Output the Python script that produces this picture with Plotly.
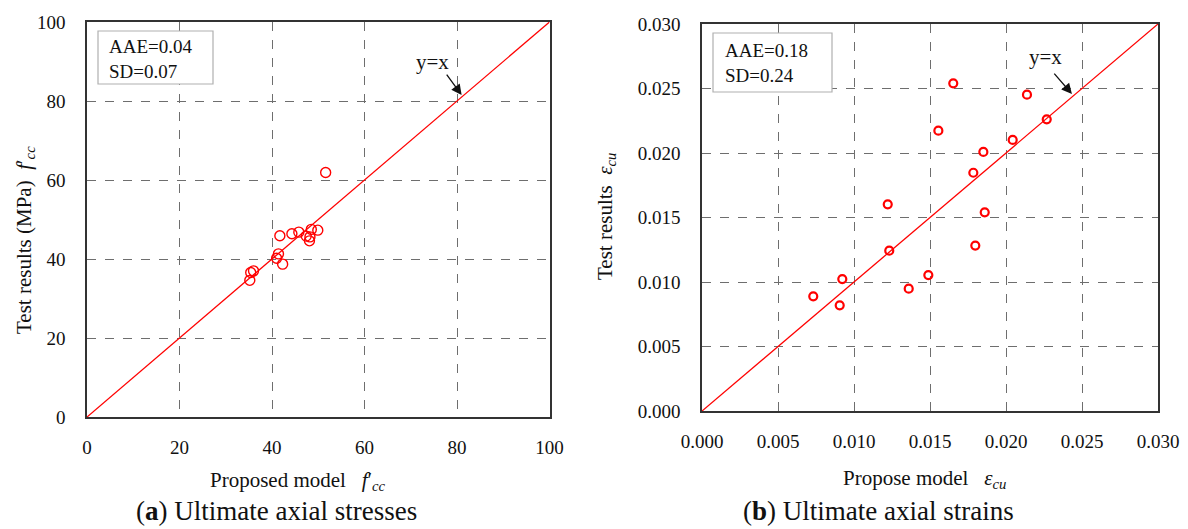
import plotly.graph_objects as go

# ---------------- data ----------------
# (a) Ultimate axial stresses (MPa)
stress_model = [51.6, 41.7, 44.3, 45.8, 47.4, 48.5, 49.9, 48.2, 48.1, 41.4, 41.0, 42.3, 36.0, 35.4, 35.2]
stress_test = [61.9, 45.9, 46.4, 46.8, 45.8, 47.5, 47.3, 45.6, 44.6, 41.3, 40.2, 38.7, 37.0, 36.6, 34.6]
stress_line = [0, 100]
stress_ticks = [0, 20, 40, 60, 80, 100]

# (b) Ultimate axial strains
strain_model = [0.01653, 0.02138, 0.02268, 0.01555, 0.02044, 0.01851, 0.01785, 0.01222,
                0.01860, 0.01798, 0.01232, 0.00923, 0.01489, 0.01360, 0.00732, 0.00906]
strain_test = [0.02540, 0.02452, 0.02261, 0.02173, 0.02101, 0.02008, 0.01847, 0.01602,
               0.01540, 0.01282, 0.01243, 0.01023, 0.01054, 0.00948, 0.00889, 0.00819]
strain_line = [0, 0.030]
strain_ticks = [0.000, 0.005, 0.010, 0.015, 0.020, 0.025, 0.030]

stats_a = "AAE=0.04<br>SD=0.07"
stats_b = "AAE=0.18<br>SD=0.24"

W, H = 1188, 529
FONT = "Liberation Serif, Times New Roman, serif"
RED = "#ff0000"
GRID = "#6e6e6e"


def px(x):
    return x / W


def py(y):
    return 1 - y / H


fig = go.Figure()

fig.add_trace(go.Scatter(x=stress_line, y=stress_line, mode="lines",
                         line=dict(color=RED, width=1.3), xaxis="x", yaxis="y",
                         showlegend=False, hoverinfo="skip"))
fig.add_trace(go.Scatter(x=stress_model, y=stress_test, mode="markers",
                         marker=dict(symbol="circle-open", size=10, color=RED,
                                     line=dict(width=1.4, color=RED)),
                         xaxis="x", yaxis="y", showlegend=False))

fig.add_trace(go.Scatter(x=strain_line, y=strain_line, mode="lines",
                         line=dict(color=RED, width=1.3), xaxis="x2", yaxis="y2",
                         showlegend=False, hoverinfo="skip"))
fig.add_trace(go.Scatter(x=strain_model, y=strain_test, mode="markers",
                         marker=dict(symbol="circle-open", size=8, color=RED,
                                     line=dict(width=2.2, color=RED)),
                         xaxis="x2", yaxis="y2", showlegend=False))

axis_common = dict(
    showline=True, linecolor="#333333", linewidth=1.5, mirror=True,
    showgrid=True, gridcolor=GRID, gridwidth=1, griddash="dash",
    zeroline=False, ticks="", automargin=False,
    tickfont=dict(family=FONT, size=19, color="#111111"),
)

fig.update_layout(
    width=W, height=H,
    margin=dict(l=0, r=0, t=0, b=0),
    paper_bgcolor="white", plot_bgcolor="white",
    font=dict(family=FONT, color="#111111"),
    xaxis=dict(domain=[px(87), px(549.5)], range=[0, 100], tickvals=stress_ticks,
               anchor="y", ticklabelstandoff=12, **axis_common),
    yaxis=dict(domain=[py(417), py(22)], range=[0, 100], tickvals=stress_ticks,
               anchor="x", ticklabelstandoff=16, **axis_common),
    xaxis2=dict(domain=[px(702), px(1158)], range=[0, 0.030], tickvals=strain_ticks,
                tickformat=".3f", anchor="y2", ticklabelstandoff=12, **axis_common),
    yaxis2=dict(domain=[py(411), py(24)], range=[0, 0.030], tickvals=strain_ticks,
                tickformat=".3f", anchor="x2", ticklabelstandoff=16, **axis_common),
)

# stats boxes (frames as shapes, texts as annotations)
box_style = dict(type="rect", xref="paper", yref="paper",
                 line=dict(color="#b0b0b0", width=1.2), fillcolor="white", layer="above")
fig.add_shape(x0=px(98), x1=px(213), y0=py(84), y1=py(31), **box_style)
fig.add_shape(x0=px(713), x1=px(832), y0=py(92), y1=py(33), **box_style)

ann = []
ann.append(dict(text=stats_a, xref="paper", yref="paper", x=px(107), y=py(59),
                xanchor="left", yanchor="middle", align="left", showarrow=False,
                font=dict(family=FONT, size=19)))
ann.append(dict(text=stats_b, xref="paper", yref="paper", x=px(723), y=py(63),
                xanchor="left", yanchor="middle", align="left", showarrow=False,
                font=dict(family=FONT, size=19)))

# y=x labels and arrows
ann.append(dict(text="y=x", xref="paper", yref="paper", x=px(432), y=py(62),
                xanchor="center", yanchor="middle", showarrow=False,
                font=dict(family=FONT, size=21)))
ann.append(dict(text="", x=81, y=81.5, xref="x", yref="y",
                axref="pixel", ayref="pixel", ax=-16, ay=-22,
                showarrow=True, arrowhead=2, arrowsize=1.6, arrowwidth=1.3,
                arrowcolor="#111111", standoff=0))
ann.append(dict(text="y=x", xref="paper", yref="paper", x=px(1045), y=py(57),
                xanchor="center", yanchor="middle", showarrow=False,
                font=dict(family=FONT, size=21)))
ann.append(dict(text="", x=0.02434, y=0.02457, xref="x2", yref="y2",
                axref="pixel", ayref="pixel", ax=-19, ay=-22,
                showarrow=True, arrowhead=2, arrowsize=1.6, arrowwidth=1.3,
                arrowcolor="#111111", standoff=0))

# axis titles
ann.append(dict(text="Proposed model&nbsp;&nbsp;&nbsp;<i>f</i>′<sub><i>cc</i></sub>",
                xref="paper", yref="paper", x=px(298), y=py(481),
                xanchor="center", yanchor="middle", showarrow=False,
                font=dict(family=FONT, size=21)))
ann.append(dict(text="Test results (MPa)&nbsp;&nbsp;<i>f</i>′<sub><i>cc</i></sub>",
                xref="paper", yref="paper", x=px(25), y=py(240), textangle=-90,
                xanchor="center", yanchor="middle", showarrow=False,
                font=dict(family=FONT, size=21)))
ann.append(dict(text="Propose model&nbsp;&nbsp;&nbsp;<i>ε</i><sub><i>cu</i></sub>",
                xref="paper", yref="paper", x=px(924), y=py(479),
                xanchor="center", yanchor="middle", showarrow=False,
                font=dict(family=FONT, size=21)))
ann.append(dict(text="Test results&nbsp;&nbsp;<i>ε</i><sub><i>cu</i></sub>",
                xref="paper", yref="paper", x=px(606), y=py(217), textangle=-90,
                xanchor="center", yanchor="middle", showarrow=False,
                font=dict(family=FONT, size=21)))

# captions
ann.append(dict(text="(<b>a</b>) Ultimate axial stresses",
                xref="paper", yref="paper", x=px(276), y=py(511),
                xanchor="center", yanchor="middle", showarrow=False,
                font=dict(family=FONT, size=27)))
ann.append(dict(text="(<b>b</b>) Ultimate axial strains",
                xref="paper", yref="paper", x=px(878), y=py(511),
                xanchor="center", yanchor="middle", showarrow=False,
                font=dict(family=FONT, size=27)))

fig.update_layout(annotations=ann)

fig.write_html(
    "out.html",
    config={"displayModeBar": False},
    post_script="document.body.style.margin='0';document.body.style.padding='0';"
                "document.documentElement.style.overflow='hidden';",
)
